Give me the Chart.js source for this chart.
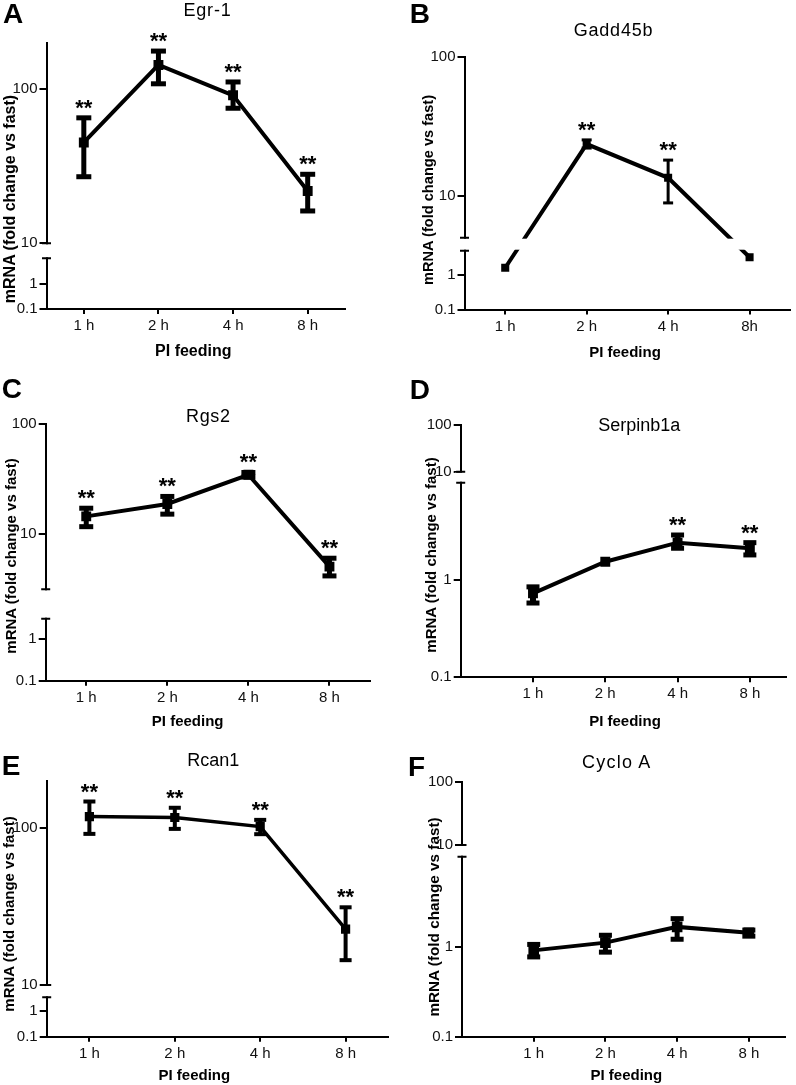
<!DOCTYPE html>
<html><head><meta charset="utf-8">
<script src="https://cdn.jsdelivr.net/npm/chart.js@4/dist/chart.umd.min.js"></script>
<style>
body{margin:0;background:#fff;width:796px;height:1085px;position:relative;overflow:hidden;font-family:'Liberation Sans',Arial,sans-serif;}
canvas{position:absolute;}
.t{position:absolute;white-space:nowrap;color:#000;}
</style></head><body>
<canvas id="cA" width="398" height="360" style="left:0px;top:0px"></canvas>
<canvas id="cB" width="398" height="360" style="left:398px;top:0px"></canvas>
<canvas id="cC" width="398" height="360" style="left:0px;top:360px"></canvas>
<canvas id="cD" width="398" height="360" style="left:398px;top:360px"></canvas>
<canvas id="cE" width="398" height="365" style="left:0px;top:720px"></canvas>
<canvas id="cF" width="398" height="365" style="left:398px;top:720px"></canvas>
<script>
// ---------- data ----------
const timeLabels  = ['1 h', '2 h', '4 h', '8 h'];
const timeLabelsB = ['1 h', '2 h', '4 h', '8h'];
const yTickValues = [0.1, 1, 10, 100];
const yTickLabels = ['0.1', '1', '10', '100'];

const egr1Mean  = [45, 143, 91, 21.8];
const egr1Upper = [65, 176, 111, 28];
const egr1Lower = [27, 108, 75, 16.2];
const egr1Stars = [true, true, true, true];

const gaddMean  = [1.61, 23.6, 13.5, 3.23];
const gaddUpper = [null, 25.3, 18.1, null];
const gaddLower = [null, 22.1, 8.9, null];
const gaddStars = [false, true, true, false];

const rgs2Mean  = [14.5, 18.8, 34.6, 5.08];
const rgs2Upper = [17.2, 22, 36.3, 6.05];
const rgs2Lower = [11.7, 15.2, 33, 4.18];
const rgs2Stars = [true, true, true, true];

const serpMean  = [0.73, 1.54, 2.42, 2.12];
const serpUpper = [0.85, null, 2.9, 2.42];
const serpLower = [0.58, null, 2.12, 1.81];
const serpStars = [false, false, true, true];

const rcanMean  = [118.6, 117, 102.4, 22.7];
const rcanUpper = [148, 135, 113, 31.3];
const rcanLower = [92, 99, 91.6, 14.4];
const rcanStars = [true, true, true, true];

const cycloMean  = [0.91, 1.11, 1.66, 1.43];
const cycloUpper = [1.06, 1.34, 2.05, 1.53];
const cycloLower = [0.77, 0.87, 1.21, 1.31];
const cycloStars = [false, false, false, false];

const FONT = "'Liberation Sans', Arial, sans-serif";

function panel(id, mean, upper, lower, stars, labels, seg, area, xRange, st) {
  const canvas = document.getElementById(id);
  const W = canvas.width, H = canvas.height;
  const L = Math.log10;
  const T = v => {
    if (v >= seg.highMin)
      return seg.lowerPx + seg.gapPx + (L(v) - L(seg.highMin)) / (L(seg.highMax) - L(seg.highMin)) * seg.upperPx;
    return (L(v) - L(seg.lowMin)) / (L(seg.lowMax) - L(seg.lowMin)) * seg.lowerPx;
  };
  const total = seg.lowerPx + seg.gapPx + seg.upperPx;
  const XH = 30;
  const breakPlugin = {
    id: 'brk' + id,
    afterDatasetsDraw(chart) {
      const ctx = chart.ctx, ys = chart.scales.y, xs = chart.scales.x, ca = chart.chartArea;
      const yUp = ys.getPixelForValue(seg.lowerPx + seg.gapPx);
      const yLo = ys.getPixelForValue(seg.lowerPx);
      const ax = ca.left;
      ctx.save();
      ctx.fillStyle = '#fff';
      ctx.fillRect(ax - 6, yUp + 1, ca.right - ax + 6, yLo - yUp - 2);
      ctx.strokeStyle = '#000'; ctx.lineWidth = 2;
      ctx.beginPath();
      ctx.moveTo(ax - 4.5, yUp); ctx.lineTo(ax + 4.5, yUp);
      ctx.moveTo(ax - 4.5, yLo); ctx.lineTo(ax + 4.5, yLo);
      ctx.stroke();
      ctx.fillStyle = '#000';
      mean.forEach((m, i) => {
        const x = xs.getPixelForValue(i + 1);
        let top = ys.getPixelForValue(T(m)) - st.pr * 0.707;
        if (upper[i] != null) {
          const yt = ys.getPixelForValue(T(upper[i])), yb = ys.getPixelForValue(T(lower[i]));
          ctx.fillRect(x - st.ew / 2, yt, st.ew, yb - yt);
          ctx.fillRect(x - st.cw / 2, yt - st.ct / 2, st.cw, st.ct);
          ctx.fillRect(x - st.cw / 2, yb - st.ct / 2, st.cw, st.ct);
          top = yt;
        }
        if (stars[i]) {
          ctx.font = 'bold 22px ' + FONT;
          ctx.textAlign = 'center'; ctx.textBaseline = 'alphabetic';
          ctx.fillText('**', x, top - 15 + 12);
        }
      });
      ctx.restore();
    }
  };
  new Chart(canvas, {
    type: 'line',
    data: { datasets: [{
      data: mean.map((v, i) => ({ x: i + 1, y: T(v) })),
      borderColor: '#000', borderWidth: st.lw, pointStyle: 'rect', pointRadius: st.pr,
      pointBackgroundColor: '#000', pointBorderWidth: 0, tension: 0, fill: false
    }]},
    options: {
      responsive: false, animation: false, events: [],
      layout: { padding: { left: 0, top: area.top, right: W - area.right, bottom: H - area.bottom - XH } },
      plugins: { legend: { display: false }, tooltip: { enabled: false }, title: { display: false } },
      scales: {
        x: {
          type: 'linear', min: xRange[0], max: xRange[1],
          afterFit: s => { s.height = XH; },
          afterBuildTicks: s => { s.ticks = labels.map((l, i) => ({ value: i + 1 })); },
          ticks: { callback: (v, i) => labels[i], font: { size: 15, family: FONT }, color: '#111', padding: 3, maxRotation: 0, autoSkip: false },
          grid: { drawOnChartArea: false, drawTicks: true, tickLength: 5, color: '#000', lineWidth: 2 },
          border: { display: true, color: '#000', width: 2 }
        },
        y: {
          type: 'linear', min: 0, max: total,
          afterFit: s => { s.width = area.left; },
          afterBuildTicks: s => { s.ticks = yTickValues.map(v => ({ value: T(v) })); },
          ticks: { callback: (v, i) => yTickLabels[i], font: { size: 15, family: FONT }, color: '#111', padding: 2, autoSkip: false },
          grid: { drawOnChartArea: false, drawTicks: true, tickLength: 7, color: '#000', lineWidth: 2 },
          border: { display: true, color: '#000', width: 2 }
        }
      }
    },
    plugins: [breakPlugin]
  });
}

panel('cA', egr1Mean, egr1Upper, egr1Lower, egr1Stars, timeLabels,
  { lowMin: 0.1, lowMax: 10, highMin: 10, highMax: 200, lowerPx: 50.7, gapPx: 15, upperPx: 200.8 },
  { left: 46.5, top: 42.5, right: 345, bottom: 309 }, [0.5, 4.5],
  { lw: 4, pr: 7, ew: 5, cw: 15, ct: 5 });
panel('cB', gaddMean, gaddUpper, gaddLower, gaddStars, timeLabelsB,
  { lowMin: 0.1, lowMax: 5, highMin: 5, highMax: 100, lowerPx: 58.8, gapPx: 13, upperPx: 180.7 },
  { left: 66.5, top: 57, right: 397, bottom: 309.5 }, [0.5, 4.5],
  { lw: 4, pr: 5.7, ew: 3, cw: 10, ct: 3 });
panel('cC', rgs2Mean, rgs2Upper, rgs2Lower, rgs2Stars, timeLabels,
  { lowMin: 0.1, lowMax: 3.16, highMin: 3.16, highMax: 100, lowerPx: 62, gapPx: 29.4, upperPx: 165.3 },
  { left: 45.7, top: 64, right: 370, bottom: 320.7 }, [0.5, 4.5],
  { lw: 4, pr: 7, ew: 5, cw: 14, ct: 5 });
panel('cD', serpMean, serpUpper, serpLower, serpStars, timeLabels,
  { lowMin: 0.1, lowMax: 10, highMin: 10, highMax: 100, lowerPx: 194.6, gapPx: 11, upperPx: 46.7 },
  { left: 62.7, top: 65, right: 388, bottom: 317.3 }, [0, 4.5],
  { lw: 4, pr: 7, ew: 6, cw: 13, ct: 5 });
panel('cE', rcanMean, rcanUpper, rcanLower, rcanStars, timeLabels,
  { lowMin: 0.1, lowMax: 3.2, highMin: 10, highMax: 200, lowerPx: 39.4, gapPx: 12.3, upperPx: 204 },
  { left: 46.7, top: 61, right: 388.3, bottom: 316.7 }, [0.5, 4.5],
  { lw: 3.5, pr: 6.5, ew: 4, cw: 12, ct: 4 });
panel('cF', cycloMean, cycloUpper, cycloLower, cycloStars, timeLabels,
  { lowMin: 0.1, lowMax: 10, highMin: 10, highMax: 100, lowerPx: 180, gapPx: 11.7, upperPx: 62.7 },
  { left: 64, top: 62.3, right: 386.7, bottom: 316.7 }, [0, 4.5],
  { lw: 4, pr: 7.5, ew: 5, cw: 13, ct: 5 });

// ---------- text ----------
function addText(txt, x, y, fs, o) {
  const d = document.createElement('div');
  d.className = 't'; d.textContent = txt;
  d.style.fontSize = fs + 'px'; d.style.lineHeight = fs + 'px';
  if (o.bold) d.style.fontWeight = 'bold';
  if (o.ls) d.style.letterSpacing = o.ls + 'px';
  document.body.appendChild(d);
  if (o.rot) {
    d.style.left = x + 'px'; d.style.top = y + 'px';
    d.style.transform = 'translate(-50%,-50%) rotate(-90deg)';
  } else {
    d.style.top = (y - 0.4885 * fs) + 'px';
    d.style.left = x + 'px';
    if (o.align !== 'left') d.style.transform = 'translateX(-50%)';
  }
}
const panelLetters = ['A', 'B', 'C', 'D', 'E', 'F'];
const letterPos = [[3, 13.3], [409.7, 13.3], [1.7, 388.3], [409.7, 390], [1.7, 766], [408, 767]];
panelLetters.forEach((l, i) => addText(l, letterPos[i][0], letterPos[i][1], 28, { bold: true, align: 'left' }));

const geneTitles = ['Egr-1', 'Gadd45b', 'Rgs2', 'Serpinb1a', 'Rcan1', 'Cyclo A'];
const titlePos = [[207.5, 9.7], [613.5, 29.7], [208.3, 415.8], [639.2, 425], [213.3, 760], [616.8, 761.7]];
const titleLs = [0.8, 0.8, 0.6, 0, 0, 1.2];
geneTitles.forEach((t, i) => addText(t, titlePos[i][0], titlePos[i][1], 18, { ls: titleLs[i] }));

const xTitle = 'PI feeding';
const xTitlePos = [[193.3, 351, 16], [625, 351, 15], [187.7, 720, 15], [625, 720, 15], [194.3, 1074, 15], [626.3, 1074, 15]];
xTitlePos.forEach(p => addText(xTitle, p[0], p[1], p[2], { bold: true }));

const yTitle = 'mRNA (fold change vs fast)';
const yTitlePos = [[10, 198.7, 16], [428, 189.5, 14.6], [10, 555.8, 15], [429.7, 555, 15], [8.3, 914.2, 15], [434, 916.7, 15.3]];
yTitlePos.forEach(p => addText(yTitle, p[0], p[1], p[2], { bold: true, rot: true }));
</script>
</body></html>
